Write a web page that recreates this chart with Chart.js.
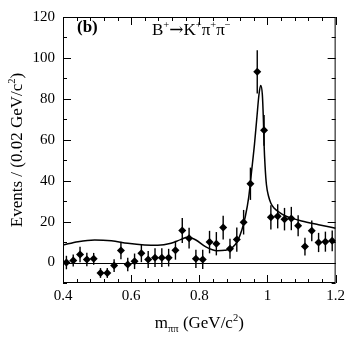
<!DOCTYPE html>
<html>
<head>
<meta charset="utf-8">
<script src="https://cdn.jsdelivr.net/npm/chart.js@4.4.1/dist/chart.umd.min.js"></script>
<style>
  html, body { margin: 0; padding: 0; background: #fff; }
  #wrap { position: relative; width: 349px; height: 337px; }
</style>
</head>
<body>
<div id="wrap"><canvas id="chart" width="349" height="337"></canvas></div>
<script>
// bin centres, m_pipi in GeV/c^2 (0.02 wide bins)
const massBins = [0.41, 0.43, 0.45, 0.47, 0.49, 0.51, 0.53, 0.55, 0.57, 0.59,
                  0.61, 0.63, 0.65, 0.67, 0.69, 0.71, 0.73, 0.75, 0.77, 0.79,
                  0.81, 0.83, 0.85, 0.87, 0.89, 0.91, 0.93, 0.95, 0.97, 0.99,
                  1.01, 1.03, 1.05, 1.07, 1.09, 1.11, 1.13, 1.15, 1.17, 1.19];
// events per bin
const events = [0, 1.0, 3.9, 1.5, 1.8, -5.1, -5.1, -1.5, 5.9, -1.0,
                0.6, 4.5, 1.5, 2.4, 2.4, 2.4, 6.0, 15.7, 11.9, 1.8,
                1.5, 10.0, 9.2, 17.1, 6.7, 11.2, 19.7, 38.5, 93.2, 64.6,
                22.1, 22.6, 21.2, 21.5, 18.0, 7.8, 15.5, 9.8, 10.2, 10.6];
// symmetric error bars
const errors = [3.3, 2.9, 3.8, 3.3, 2.9, 2.4, 2.4, 3.1, 4.3, 3.3,
                3.8, 4.3, 4.2, 4.6, 4.6, 4.3, 4.6, 6.1, 5.1, 4.5,
                4.7, 5.5, 5.7, 5.8, 4.9, 5.9, 6.0, 7.9, 10.6, 7.5,
                5.9, 5.9, 5.5, 5.7, 5.1, 4.3, 5.1, 4.7, 4.9, 5.1];

// fit curve, sampled by eye
const fitMass = [0.400, 0.444, 0.493, 0.542, 0.590, 0.639, 0.678, 0.717, 0.745, 0.766,
                 0.790, 0.818, 0.852, 0.875, 0.896, 0.912, 0.925, 0.935, 0.945, 0.954,
                 0.962, 0.969, 0.975, 0.980, 0.985, 0.988, 0.990, 0.993, 0.997, 1.003,
                 1.010, 1.020, 1.035, 1.050, 1.070, 1.100, 1.150, 1.200];
const fitEvents = [8.6, 10.2, 11.0, 10.6, 9.4, 8.6, 8.4, 9.4, 11.2, 12.3,
                   11.0, 7.8, 5.8, 6.0, 7.2, 10.5, 16.0, 22.5, 32.0, 45.5,
                   58, 71, 82, 86.5, 82, 70, 58, 47, 38, 32.5,
                   29, 26.5, 24.5, 23, 21.7, 20.3, 18.5, 16.8];

// axes
const xMin = 0.4, xMax = 1.2;
const yMin = -10, yMax = 120;
const xTicks = [0.4, 0.6, 0.8, 1.0, 1.2];
const xTickLabels = ['0.4', '0.6', '0.8', '1', '1.2'];
const yTicks = [0, 20, 40, 60, 80, 100, 120];
const xMinorStep = 0.04;
const yMinorStep = 10;

const FONT = "'Liberation Serif', 'DejaVu Serif', serif";
const ARROW_FONT = "'DejaVu Serif', serif";

// draw text with sup / sub pieces: parts = [[text, kind, font], ...]
function partFont(p, size, weight) {
  const s = (p[1] === 'sup' || p[1] === 'sub') ? size * 0.62 : size;
  return (weight || '') + ' ' + s + 'px ' + (p[2] || FONT);
}

function richWidth(ctx, parts, size, weight) {
  let w = 0;
  parts.forEach(p => {
    ctx.font = partFont(p, size, weight);
    w += ctx.measureText(p[0]).width;
  });
  return w;
}

function drawRich(ctx, parts, x, y, size, align, weight) {
  let cx = x;
  if (align === 'center') cx = x - richWidth(ctx, parts, size, weight) / 2;
  ctx.textBaseline = 'alphabetic';
  ctx.textAlign = 'left';
  parts.forEach(p => {
    let dy = 0;
    if (p[1] === 'sup') dy = -size * 0.42;
    if (p[1] === 'sub') dy = size * 0.22;
    ctx.font = partFont(p, size, weight);
    ctx.fillText(p[0], cx, y + dy);
    cx += ctx.measureText(p[0]).width;
  });
}

// error bars + zero line, under the markers
const errorBars = {
  id: 'errorBars',
  beforeDatasetsDraw(chart) {
    const {ctx, chartArea: a, scales: {x, y}} = chart;
    ctx.save();
    ctx.strokeStyle = '#000';
    ctx.lineWidth = 1;
    const y0 = Math.round(y.getPixelForValue(0)) + 0.5;
    ctx.beginPath();
    ctx.moveTo(a.left, y0);
    ctx.lineTo(a.right, y0);
    ctx.stroke();

    ctx.lineWidth = 1.4;
    massBins.forEach((m, i) => {
      const px = x.getPixelForValue(m);
      const top = Math.max(y.getPixelForValue(events[i] + errors[i]), a.top);
      const bot = Math.min(y.getPixelForValue(events[i] - errors[i]), a.bottom);
      ctx.beginPath();
      ctx.moveTo(px, top);
      ctx.lineTo(px, bot);
      ctx.stroke();
    });
    ctx.restore();
  }
};

// frame with inward ticks on all four sides, plus titles and labels
const frameAndText = {
  id: 'frameAndText',
  afterDatasetsDraw(chart) {
    const {ctx, chartArea: a, scales: {x, y}} = chart;
    ctx.save();
    ctx.strokeStyle = '#000';
    ctx.lineWidth = 1;
    ctx.strokeRect(a.left + 0.5, a.top + 0.5, a.right - a.left - 1, a.bottom - a.top - 1);

    ctx.beginPath();
    for (let v = xMin; v <= xMax + 1e-9; v += xMinorStep) {
      const major = xTicks.some(t => Math.abs(t - v) < 1e-6);
      const len = major ? 8 : 4;
      const px = Math.round(x.getPixelForValue(v)) + 0.5;
      ctx.moveTo(px, a.bottom);
      ctx.lineTo(px, a.bottom - len);
      ctx.moveTo(px, a.top);
      ctx.lineTo(px, a.top + len);
    }
    for (let v = yMin; v <= yMax + 1e-9; v += yMinorStep) {
      const major = yTicks.some(t => Math.abs(t - v) < 1e-6);
      const len = major ? 8 : 4;
      const py = Math.round(y.getPixelForValue(v)) + 0.5;
      ctx.moveTo(a.left, py);
      ctx.lineTo(a.left + len, py);
      ctx.moveTo(a.right, py);
      ctx.lineTo(a.right - len, py);
    }
    ctx.stroke();

    ctx.fillStyle = '#000';
    // x axis title
    drawRich(ctx, [['m'], ['\u03c0\u03c0', 'sub'], [' (GeV/c'], ['2', 'sup'], [')']],
             (a.left + a.right) / 2, 328, 17, 'center');
    // y axis title
    ctx.save();
    ctx.translate(22, (a.top + a.bottom) / 2);
    ctx.rotate(-Math.PI / 2);
    drawRich(ctx, [['Events / (0.02 GeV/c'], ['2', 'sup'], [')']], 0, 0, 17, 'center');
    ctx.restore();

    // panel label and decay
    drawRich(ctx, [['(b)']], 77, 32, 17, 'left', 'bold');
    drawRich(ctx, [['B'], ['+', 'sup'], ['\u2192', null, ARROW_FONT], ['K'], ['+', 'sup'],
                   ['\u03c0'], ['+', 'sup'], ['\u03c0'], ['\u2212', 'sup']], 152, 35, 17, 'left');
    ctx.restore();
  }
};

const ctx = document.getElementById('chart').getContext('2d');
new Chart(ctx, {
  type: 'scatter',
  data: {
    datasets: [{
      label: 'data',
      data: massBins.map((m, i) => ({x: m, y: events[i]})),
      pointStyle: 'rectRot',
      pointRadius: 4,
      backgroundColor: '#000',
      borderColor: '#000',
      borderWidth: 0,
      showLine: false,
      order: 1
    }, {
      label: 'fit',
      type: 'line',
      data: fitMass.map((m, i) => ({x: m, y: fitEvents[i]})),
      borderColor: '#000',
      borderWidth: 1.5,
      pointRadius: 0,
      cubicInterpolationMode: 'monotone',
      fill: false,
      order: 2
    }]
  },
  options: {
    responsive: false,
    animation: false,
    events: [],
    layout: { padding: { top: 7, right: 11, left: 0, bottom: 0 } },
    plugins: {
      legend: { display: false },
      tooltip: { enabled: false }
    },
    scales: {
      x: {
        type: 'linear',
        min: xMin,
        max: xMax,
        afterBuildTicks: s => { s.ticks = xTicks.map(v => ({value: v})); },
        afterFit: s => { s.height = 54; },
        grid: { display: false, drawTicks: false },
        border: { display: false },
        ticks: {
          padding: 4,
          maxRotation: 0,
          autoSkip: false,
          color: '#000',
          font: { family: FONT, size: 15 },
          callback: (v, i) => xTickLabels[i]
        }
      },
      y: {
        type: 'linear',
        min: yMin,
        max: yMax,
        afterBuildTicks: s => { s.ticks = yTicks.map(v => ({value: v})); },
        afterFit: s => { s.width = 63; },
        grid: { display: false, drawTicks: false },
        border: { display: false },
        ticks: {
          padding: 8,
          color: '#000',
          font: { family: FONT, size: 15 }
        }
      }
    }
  },
  plugins: [errorBars, frameAndText]
});
</script>
</body>
</html>
